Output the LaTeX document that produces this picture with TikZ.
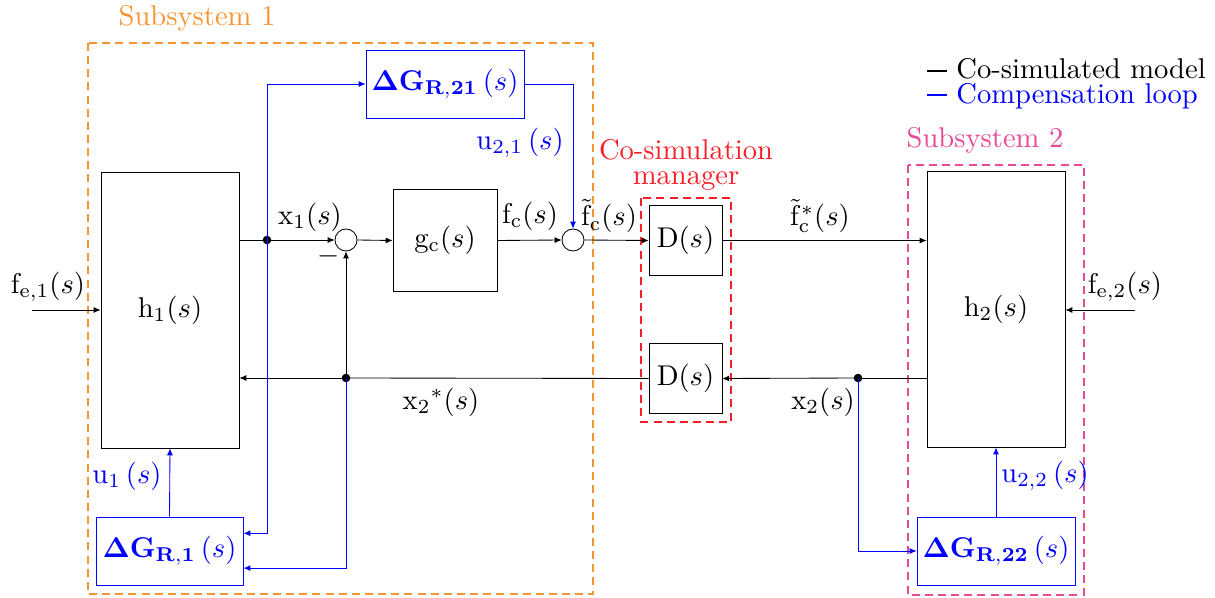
\documentclass[tikz,border=0pt]{standalone}
\usetikzlibrary{arrows.meta}
\definecolor{sysorange}{RGB}{247,148,50}
\definecolor{syspink}{RGB}{232,72,150}
\definecolor{mgrred}{RGB}{250,30,40}
\begin{document}
\begin{tikzpicture}[x=0.35pt,y=-0.35pt, line width=0.3pt,
  >={Latex[length=2.4pt,width=2.1pt]},
  blk/.style={draw, inner sep=0pt},
  gblk/.style={draw=blue, text=blue, inner sep=0pt, minimum height=23.8pt},
  sumc/.style={draw, circle, minimum size=7.7pt, inner sep=0pt},
  frame/.style={dashed, line width=0.65pt, dash pattern=on 2.8pt off 1.8pt},
  wire/.style={->},
  bwire/.style={->, blue},
  lbl/.style={inner sep=0pt},
  dot/.style={fill, circle, inner sep=0pt, minimum size=3pt}]
\useasboundingbox (0,0) rectangle (1215,598);

% frames
\draw[frame, sysorange] (88,43) rectangle (593,594);
\node[text=sysorange, lbl] (lab1) at (197,18) {Subsystem 1};
\draw[frame, syspink] (908,165) rectangle (1084,595);
\node[text=syspink, lbl] (lab2) at (985,140) {Subsystem 2};
\draw[frame, mgrred] (641,198) rectangle (731,422);
\node[text=mgrred, align=center, inner sep=0pt] (lab3) at (686,165) {Co-simulation\\[-3pt]manager};

% blocks
\node[blk, minimum width=48.3pt, minimum height=96.6pt] (h1) at (170,310) {$\mathrm{h}_1(s)$};
\node[blk, minimum width=48.3pt, minimum height=96.3pt] (h2) at (996,309.5) {$\mathrm{h}_2(s)$};
\node[blk, minimum width=36.4pt, minimum height=36pt] (gc) at (445,240.5) {$\mathrm{g}_\mathrm{c}(s)$};
\node[sumc] (s1) at (346,240) {};
\node[sumc] (s2) at (573,240) {};
\node[blk, minimum width=25.5pt, minimum height=24.2pt] (d1) at (685.5,240.5) {$\mathrm{D}(s)$};
\node[blk, minimum width=25.5pt, minimum height=24.2pt] (d2) at (685.5,378.5) {$\mathrm{D}(s)$};
\node[gblk, minimum width=55.3pt] (g21) at (445,84) {$\mathbf{\Delta G}_{\mathbf{R,21}}\left(s\right)$};
\node[gblk, minimum width=51.5pt] (g1) at (169.5,551) {$\mathbf{\Delta G}_{\mathbf{R,1}}\left(s\right)$};
\node[gblk, minimum width=55.3pt] (g22) at (996,551) {$\mathbf{\Delta G}_{\mathbf{R,22}}\left(s\right)$};

% coordinates
\coordinate (p1) at (267,240);
\coordinate (p2) at (346,378);
\coordinate (p3) at (858,378);
\coordinate (in1) at (32,310);
\coordinate (in2) at (1135,310);

% black connectors
\draw (h1.east |- p1) -- (p1);
\draw[wire] (p1) -- (s1.west);
\draw[wire] (s1.east) -- (gc.west);
\draw[wire] (gc.east) -- (s2.west);
\draw[wire] (s2.east) -- (d1.west);
\draw[wire] (d1.east) -- (h2.west |- d1.east);
\draw (h2.west |- p3) -- (p3);
\draw[wire] (p3) -- (d2.east);
\draw (d2.west) -- (p2);
\draw[wire] (p2) -- (h1.east |- p2);
\draw[wire] (p2) -- (s1.south);
\draw[wire] (in1) -- (h1.west |- in1);
\draw[wire] (in2) -- (h2.east |- in2);
\node[dot] (dt1) at (p1) {};
\node[dot] (dt2) at (p2) {};
\node[dot] (dt3) at (p3) {};

% blue connectors
\draw[bwire] (p1) |- (g21.west);
\draw[bwire] (p1) |- ([yshift=6.2pt]g1.east);
\draw[bwire] (g21.east) -| (s2.north);
\draw[bwire] (p2) |- ([yshift=-6pt]g1.east);
\draw[bwire] (g1.north) -- (h1.south);
\draw[bwire] (p3) |- (g22.west);
\draw[bwire] (g22.north) -- (h2.south);

% labels
\node[lbl] (lx1) at (310,217) {$\mathrm{x}_1(s)$};
\node[lbl] (lfc) at (530,216) {$\mathrm{f}_\mathrm{c}(s)$};
\node[lbl] (lfct) at (609,216) {$\tilde{\mathrm{f}}_\mathrm{c}(s)$};
\node[lbl] (lfcs) at (820,216) {$\tilde{\mathrm{f}}^*_\mathrm{c}(s)$};
\node[lbl] (lx2s) at (441,402) {$\mathrm{x_2}^*(s)$};
\node[lbl] (lx2) at (823,402) {$\mathrm{x}_2(s)$};
\node[lbl] (lfe1) at (48,287) {$\mathrm{f}_{\mathrm{e},1}(s)$};
\node[lbl] (lfe2) at (1125,287) {$\mathrm{f}_{\mathrm{e},2}(s)$};
\node[lbl, text=blue] (lu21) at (520,143) {$\mathrm{u}_{2,1}\left(s\right)$};
\node[lbl, text=blue] (lu1) at (127,476) {$\mathrm{u}_1\left(s\right)$};
\node[lbl, text=blue] (lu22) at (1045,476) {$\mathrm{u}_{2,2}\left(s\right)$};
\node[lbl] (minus) at (329,256) {$-$};

% legend
\node[anchor=west, inner sep=0pt] (leg1) at (927,69) {\rule[2.4pt]{6.8pt}{0.7pt}\ Co-simulated model};
\node[anchor=west, inner sep=0pt, text=blue] (leg2) at (927,96) {\rule[2.4pt]{6.8pt}{0.7pt}\ Compensation loop};
\end{tikzpicture}
\end{document}
